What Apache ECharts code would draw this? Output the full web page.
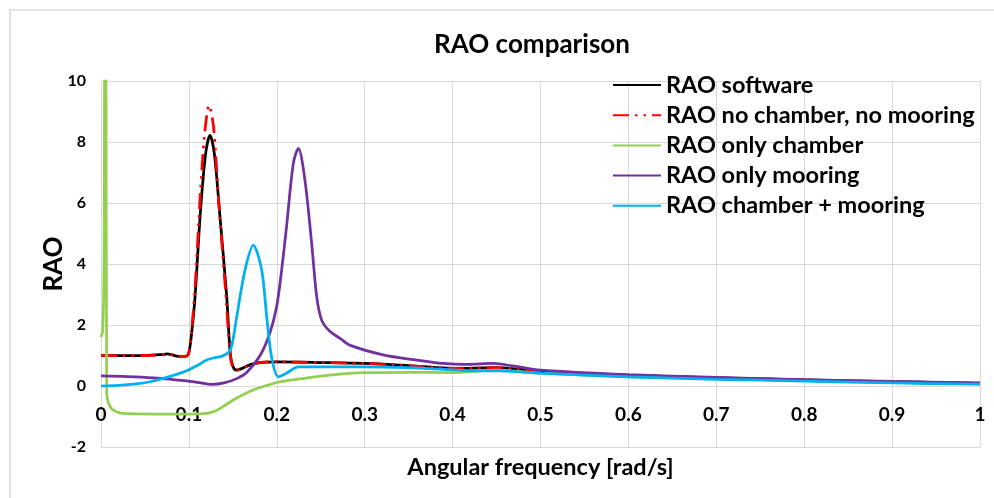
<!DOCTYPE html>
<html>
<head>
<meta charset="utf-8">
<script src="https://cdn.jsdelivr.net/npm/echarts@6/dist/echarts.min.js"></script>
<style>
  html, body { margin: 0; padding: 0; background: #fff; }
  #rao_chart { width: 994px; height: 498px; }
</style>
</head>
<body>
<div id="rao_chart"></div>
<script>
// values
const seriesNames = ['RAO software', 'RAO no chamber, no mooring', 'RAO only chamber', 'RAO only mooring', 'RAO chamber + mooring'];

const softwareFreq = [0, 0.02, 0.05, 0.07, 0.075, 0.08, 0.088, 0.097, 0.1, 0.103, 0.107, 0.113, 0.119, 0.124, 0.129, 0.135, 0.143, 0.147, 0.15, 0.154, 0.16, 0.17, 0.18, 0.2, 0.25, 0.3, 0.35, 0.4, 0.45, 0.5, 0.6, 0.7, 0.8, 0.9, 1.0];
const softwareRao = [1.0, 1.0, 1.0, 1.03, 1.05, 1.03, 0.97, 0.98, 1.1, 1.7, 2.93, 5.67, 7.6, 8.22, 7.6, 5.67, 2.93, 1.08, 0.65, 0.52, 0.57, 0.7, 0.77, 0.79, 0.77, 0.74, 0.67, 0.58, 0.6, 0.48, 0.35, 0.27, 0.2, 0.14, 0.09];

const noChamberFreq = [0, 0.02, 0.05, 0.07, 0.075, 0.08, 0.088, 0.097, 0.1, 0.103, 0.107, 0.113, 0.118, 0.123, 0.128, 0.134, 0.142, 0.147, 0.15, 0.154, 0.16, 0.17, 0.18, 0.2, 0.25, 0.3, 0.35, 0.4, 0.45, 0.5, 0.6, 0.7, 0.8, 0.9, 1.0];
const noChamberRao = [1.0, 1.0, 1.0, 1.03, 1.05, 1.03, 0.97, 0.98, 1.1, 1.8, 3.2, 6.3, 8.3, 9.2, 8.5, 6.0, 3.0, 1.0, 0.63, 0.52, 0.57, 0.7, 0.77, 0.79, 0.77, 0.74, 0.67, 0.58, 0.6, 0.48, 0.35, 0.27, 0.2, 0.14, 0.09];

const chamberFreq = [0, 0.002, 0.0035, 0.0045, 0.0055, 0.0065, 0.009, 0.014, 0.025, 0.06, 0.1, 0.12, 0.13, 0.14, 0.154, 0.173, 0.19, 0.204, 0.226, 0.26, 0.3, 0.35, 0.4, 0.45, 0.5, 0.6, 0.7, 0.8, 0.9, 1.0];
const chamberRao = [1.6, 1.85, 4, 14, 14, -0.24, -0.6, -0.79, -0.9, -0.92, -0.92, -0.9, -0.82, -0.65, -0.4, -0.13, 0.03, 0.14, 0.23, 0.36, 0.44, 0.45, 0.44, 0.52, 0.42, 0.3, 0.24, 0.18, 0.12, 0.07];

const mooringFreq = [0, 0.03, 0.06, 0.075, 0.0975, 0.11, 0.126, 0.14, 0.155, 0.166, 0.181, 0.192, 0.1998, 0.2055, 0.211, 0.2188, 0.2245, 0.232, 0.24, 0.2454, 0.251, 0.26, 0.272, 0.283, 0.321, 0.359, 0.389, 0.416, 0.446, 0.47, 0.5, 0.6, 0.7, 0.8, 0.9, 1.0];
const mooringRao = [0.33, 0.31, 0.27, 0.23, 0.17, 0.12, 0.05, 0.1, 0.25, 0.45, 1.0, 1.73, 2.6, 3.8, 5.2, 7.3, 7.79, 6.75, 4.57, 2.93, 2.16, 1.8, 1.56, 1.34, 1.02, 0.85, 0.74, 0.71, 0.74, 0.65, 0.52, 0.37, 0.28, 0.21, 0.15, 0.1];

const bothFreq = [0, 0.02, 0.04, 0.056, 0.07, 0.086, 0.0975, 0.11, 0.12, 0.128, 0.137, 0.145, 0.149, 0.1544, 0.1638, 0.1733, 0.1828, 0.1885, 0.194, 0.2017, 0.211, 0.2245, 0.3, 0.35, 0.4, 0.42, 0.45, 0.5, 0.6, 0.7, 0.8, 0.9, 1.0];
const bothRao = [0, 0.02, 0.07, 0.14, 0.24, 0.38, 0.5, 0.68, 0.85, 0.92, 0.97, 1.1, 1.35, 2.27, 3.8, 4.62, 3.8, 2.27, 0.96, 0.3, 0.42, 0.63, 0.63, 0.6, 0.53, 0.5, 0.5, 0.42, 0.3, 0.22, 0.16, 0.1, 0.06];

const colors = ['#000000', '#ff0000', '#92d050', '#7030a0', '#00b0f0'];

function pairs(xs, ys) {
  let out = [];
  for (let i = 0; i < xs.length; i++) {
    out.push([xs[i], ys[i]]);
  }
  return out;
}

const allData = [
  pairs(softwareFreq, softwareRao),
  pairs(noChamberFreq, noChamberRao),
  pairs(chamberFreq, chamberRao),
  pairs(mooringFreq, mooringRao),
  pairs(bothFreq, bothRao)
];

const font = 'Lato, "Open Sans", sans-serif';

const chart = echarts.init(document.getElementById('rao_chart'));
chart.setOption({
  animation: false,
  color: colors,
  title: {
    text: 'RAO comparison',
    left: 527,
    top: 27,
    textAlign: 'center',
    textStyle: {fontFamily: font, fontSize: 26, fontWeight: 'bold', color: '#000'}
  },
  graphic: [{
    type: 'rect',
    shape: {x: 10, y: 10, width: 1000, height: 500},
    style: {fill: 'none', stroke: '#d9d9d9', lineWidth: 1.5},
    silent: true
  }],
  legend: {
    orient: 'vertical',
    left: 612,
    top: 73,
    padding: 0,
    itemWidth: 48,
    itemHeight: 20,
    itemGap: 6.2,
    data: seriesNames,
    itemStyle: {opacity: 0},
    textStyle: {fontFamily: font, fontSize: 23.5, fontWeight: 'bold', color: '#000'}
  },
  grid: {left: 101, right: 14, top: 81, bottom: 51, outerBoundsMode: 'none', containLabel: false},
  xAxis: {
    type: 'value',
    min: 0,
    max: 1,
    interval: 0.1,
    name: 'Angular frequency [rad/s]',
    nameLocation: 'middle',
    nameGap: 8,
    nameTextStyle: {fontFamily: font, fontSize: 23.5, fontWeight: 'bold', color: '#000'},
    axisLine: {onZero: false, lineStyle: {color: '#d9d9d9', width: 1}},
    axisTick: {show: false},
    // labels sit next to the zero line, as in the reference
    axisLabel: {margin: -42, fontFamily: font, fontSize: 19, fontWeight: 'bold', color: '#000'},
    splitLine: {show: true, lineStyle: {color: '#d9d9d9', width: 1}}
  },
  yAxis: {
    type: 'value',
    min: -2,
    max: 10,
    interval: 2,
    name: 'RAO',
    nameLocation: 'middle',
    nameGap: 34,
    nameMoveOverlap: false,
    nameTextStyle: {fontFamily: font, fontSize: 26, fontWeight: 'bold', color: '#000'},
    axisLine: {show: false},
    axisTick: {show: false},
    axisLabel: {margin: 15, fontFamily: font, fontSize: 16, fontWeight: 'bold', color: '#000'},
    splitLine: {show: true, lineStyle: {color: '#d9d9d9', width: 1}}
  },
  series: seriesNames.map((name, i) => ({
    name: name,
    type: 'line',
    data: allData[i],
    smooth: 0.3,
    symbol: 'none',
    clip: true,
    lineStyle: {
      width: 2.75,
      color: colors[i],
      type: i === 1 ? [16, 6, 2.5, 6, 2.5, 6] : 'solid'
    }
  }))
});
</script>
</body>
</html>
